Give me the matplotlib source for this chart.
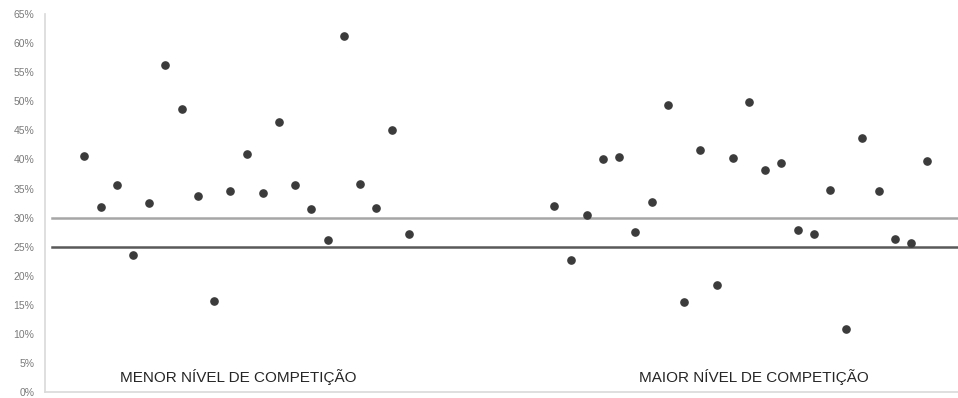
"""Scatter of percentages by competition level, two groups with reference lines."""

import matplotlib
matplotlib.use("Agg")
import matplotlib.pyplot as plt
from matplotlib.ticker import MultipleLocator, FuncFormatter

# values (percent)
menor_valores = [40.6, 31.8, 35.6, 23.6, 32.5, 56.3, 48.6, 33.7, 15.7, 34.6, 40.9,
                 34.3, 46.4, 35.6, 31.5, 26.1, 61.2, 35.8, 31.6, 45.1, 27.1]
maior_valores = [32.0, 22.7, 30.5, 40.1, 40.5, 27.5, 32.6, 49.3, 15.5, 41.6, 18.4, 40.3,
                 49.8, 38.1, 39.3, 27.8, 27.2, 34.8, 10.8, 43.6, 34.6, 26.4, 25.7, 39.7]
menor_x = list(range(2, 2 + len(menor_valores)))
maior_x = list(range(31, 31 + len(maior_valores)))

linhas_ref = [30, 25]
cores_ref = ["#a6a6a6", "#595959"]
rotulos = ["MENOR NÍVEL DE COMPETIÇÃO", "MAIOR NÍVEL DE COMPETIÇÃO"]

plt.rcParams["font.family"] = ["Liberation Sans", "DejaVu Sans"]

fig = plt.figure(figsize=(9.58, 3.98), dpi=100)
ax = fig.add_axes([0.0467, 0.015, 0.9533, 0.9497])

# reference lines
for nivel, cor in zip(linhas_ref, cores_ref):
    ax.plot([0, 60], [nivel, nivel], color=cor, linewidth=1.8, zorder=1)

ax.plot(menor_x, menor_valores, "o", color="#3b3b3b", markersize=5.2, zorder=3)
ax.plot(maior_x, maior_valores, "o", color="#3b3b3b", markersize=5.2, zorder=3)

ax.set_xlim(-0.45, 55.9)
ax.set_ylim(0, 65)
ax.yaxis.set_major_locator(MultipleLocator(5))
ax.yaxis.set_major_formatter(FuncFormatter(lambda v, _: f"{v:.0f}%"))
ax.set_xticks([])
ax.tick_params(axis="y", length=0, pad=7.5, labelsize=7.5, labelcolor="#7a7a7a")

for side in ["top", "right"]:
    ax.spines[side].set_visible(False)
for side in ["left", "bottom"]:
    ax.spines[side].set_color("#d9d9d9")
    ax.spines[side].set_linewidth(1.2)

# group labels
ax.text(11.5, 2.5, rotulos[0], ha="center", va="center", fontsize=11, color="#262626")
ax.text(43.3, 2.5, rotulos[1], ha="center", va="center", fontsize=11, color="#262626")

fig.savefig("out.png", dpi=100)
